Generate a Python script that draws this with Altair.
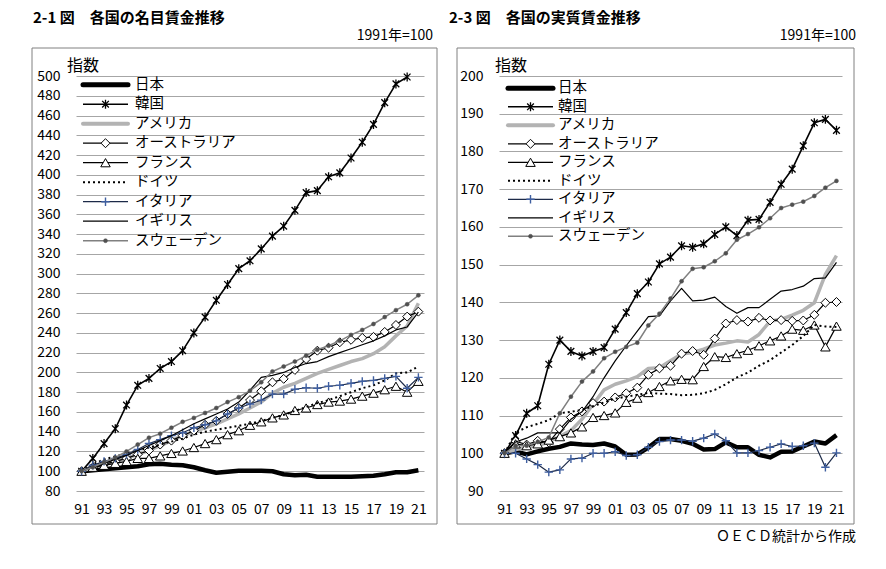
import altair as alt
import pandas as pd

YEARS = list(range(1991, 2022))
SERIES = ["日本", "韓国", "アメリカ", "オーストラリア", "フランス", "ドイツ", "イタリア", "イギリス", "スウェーデン"]

# 2-1 名目賃金 (1991=100)
nom_jp = [100, 101, 102, 103, 104, 105, 107, 107.5, 106.5, 106, 104, 101, 98.5, 99.5, 100.5, 100.5, 100.5, 100, 97, 96, 96.5, 94.5, 94.5, 94.5, 94.5, 95, 95.5, 97, 99, 99, 101]
nom_kr = [100, 113, 128, 143, 167, 187, 194, 204, 211, 222, 240, 256, 273, 289, 305, 313, 325, 338, 348, 364, 382, 384, 398, 402, 417, 433, 451, 473, 492, 499]
nom_us = [100, 104, 107, 110, 113, 117, 121, 126, 131, 136, 140, 144, 148, 153, 158, 164, 170, 179, 185, 189, 194, 199, 203, 207, 211, 214, 219, 226, 237, 247, 270]
nom_au = [100, 104, 107, 110, 113, 117, 121, 127, 131, 136, 141, 147, 151, 158, 164, 172, 181, 190, 193.5, 202.5, 213.5, 222, 225, 230.5, 233, 235, 236, 241, 248, 256.5, 261.5]
nom_fr = [100, 104, 106, 108, 110, 113, 113, 115.5, 118, 120.5, 124, 128, 132, 137, 141, 146.5, 150, 154, 157, 161.5, 164, 167.5, 170, 171, 173, 176, 179, 182.5, 186, 180, 191]
nom_de = [100, 107, 112, 115, 118, 121, 124, 127, 130, 133, 137, 140, 142, 144, 146, 148, 151, 154, 157, 161, 165, 169, 172, 176, 180, 184, 187, 192, 199, 200, 206]
nom_it = [100, 106, 110, 113, 117, 122, 128, 132, 136, 139, 144, 147, 151, 158, 164, 168, 172, 178, 178, 183, 184.5, 184, 186, 187, 189, 191, 192, 194, 196, 184, 195]
nom_uk = [100, 104, 108, 112, 116, 121, 126, 131, 136, 142, 148, 153, 158, 163, 170, 182, 195, 197, 200, 205, 209, 211, 216, 220, 224, 228, 232, 237, 243, 246, 261]
nom_se = [100, 104, 109, 114, 120, 127, 134, 138, 144, 150, 154, 159, 164, 170, 175, 181.5, 190, 201, 206, 211, 217, 223, 227, 232, 238, 243, 249, 256, 263, 269, 278]

# 2-3 実質賃金 (1991=100)
real_jp = [100, 100.5, 99.7, 100.5, 101.2, 101.7, 102.6, 102.3, 102.2, 102.6, 101.8, 99.6, 99.7, 101.5, 103.8, 103.8, 103.3, 102.5, 101, 101.1, 102.9, 101.6, 101.6, 99.6, 98.9, 100.4, 100.5, 101.8, 103.1, 102.6, 104.8]
real_kr = [100, 104.7, 110.6, 112.6, 123.6, 130, 127, 125.8, 127, 128, 132.9, 137.3, 142.3, 145.4, 150.2, 152, 155, 154.6, 155.5, 158, 160, 157.7, 161.8, 162, 166.5, 171.3, 175.3, 181.5, 187.6, 188.5, 185.6]
real_us = [100, 101, 101.5, 102, 103, 104.5, 106, 109, 113, 116.8, 118.3, 119.2, 120.3, 122.5, 122.7, 124.5, 126.3, 126.7, 127.6, 128.7, 129.2, 129.8, 129.5, 131.5, 135, 135.5, 136.6, 137.9, 139.9, 147.4, 152.4]
real_au = [100, 103.2, 102.3, 103.3, 102.9, 106.4, 109.5, 111.1, 113.3, 113.7, 114.8, 115.9, 117.4, 120.8, 122.5, 123.2, 126.4, 127.1, 126.1, 130.4, 134.4, 135.3, 134.9, 135.9, 135.2, 135.3, 135.1, 135.2, 136.7, 139.9, 140.1]
real_fr = [100, 102.5, 102, 102.5, 103.5, 104.4, 105.4, 107, 109.5, 110, 110.7, 113.5, 114.6, 116.1, 117.7, 119.2, 119.6, 119.5, 123, 125.6, 125.4, 126.4, 127.3, 128.5, 129.8, 131.1, 132.9, 132.6, 134, 128.2, 133.7]
real_de = [100, 105.5, 106.9, 107.8, 108.8, 110.6, 111, 111.5, 112.5, 113.5, 114.5, 115, 115.5, 116, 115.8, 115.7, 115.4, 115.5, 115.9, 116.8, 118.3, 120.1, 121.4, 123.2, 124.7, 126.7, 128.7, 131.1, 134, 133.6, 133.5]
real_it = [100, 100, 98.5, 97, 95, 95.6, 98.5, 98.7, 100, 100, 100.4, 99.4, 99.6, 101.6, 103.1, 103.5, 103.5, 103.2, 104, 105.1, 103.3, 100.1, 100.1, 100.7, 101.6, 102.5, 101.8, 102, 102.7, 96.3, 100.1]
real_uk = [100, 103, 104, 105.4, 105.4, 105.4, 109, 111, 115, 120, 124.5, 128.5, 132.4, 136.2, 136.4, 140.4, 143.7, 140.4, 140.6, 141.4, 138.9, 137.1, 138.6, 138.6, 140.8, 143, 143.4, 144.3, 146.3, 146.5, 150.6]
real_se = [100, 102, 102, 103, 104.2, 110.6, 115, 119, 121.7, 125.2, 126.9, 128.2, 129.3, 133.9, 137, 141, 145.6, 148.9, 149.3, 150.9, 153, 156.6, 158.1, 159.9, 162.3, 165, 165.9, 166.7, 168.2, 170.4, 172.2]

NOMINAL = dict(zip(SERIES, [nom_jp, nom_kr, nom_us, nom_au, nom_fr, nom_de, nom_it, nom_uk, nom_se]))
REAL = dict(zip(SERIES, [real_jp, real_kr, real_us, real_au, real_fr, real_de, real_it, real_uk, real_se]))

FONT = "Noto Sans CJK JP"
ASTER = "M-0.75,-0.75L0.75,0.75M-0.75,0.75L0.75,-0.75M0,-1L0,1"
PLUS = "M-1,0L1,0M0,-1L0,1"

STYLE = {
    "日本": dict(color="#000000", width=4.5),
    "韓国": dict(color="#000000", width=1.6,
               marker=dict(shape=ASTER, size=80, filled=False, stroke="#000000", strokeWidth=1.3)),
    "アメリカ": dict(color="#b3b3b3", width=3.5),
    "オーストラリア": dict(color="#000000", width=1.2,
                    marker=dict(shape="diamond", size=80, filled=True, fill="#ffffff", stroke="#000000", strokeWidth=1)),
    "フランス": dict(color="#000000", width=1.2,
                 marker=dict(shape="triangle-up", size=90, filled=True, fill="#ffffff", stroke="#000000", strokeWidth=1)),
    "ドイツ": dict(color="#000000", width=2, dash=[2, 3]),
    "イタリア": dict(color="#1c2a48", width=1.2,
                 marker=dict(shape=PLUS, size=70, filled=False, stroke="#3f5fa0", strokeWidth=1.4)),
    "イギリス": dict(color="#000000", width=1.2),
    "スウェーデン": dict(color="#808080", width=1.5,
                   marker=dict(shape="circle", size=16, filled=True, fill="#505050", stroke="#505050", strokeWidth=0.5)),
}

one = pd.DataFrame({"a": [0]})


def build(values, ydomain, yticks, W, H, title_text, leg, frame_x, title_dx, shisu_dx, footer=False):
    X = alt.X("year:Q", scale=alt.Scale(domain=[1990.5, 2021.5], nice=False, zero=False),
              axis=alt.Axis(values=YEARS[::2], labelExpr="substring(toString(datum.value), 2)",
                            grid=False, domain=False, ticks=False, labelPadding=11,
                            labelFontSize=14, labelFont=FONT, labelColor="#000000", title=None))
    Y = alt.Y("v:Q", scale=alt.Scale(domain=ydomain, nice=False, zero=False),
              axis=alt.Axis(values=yticks, grid=True, gridColor="#a6a6a6", gridWidth=1,
                            domain=False, ticks=False, labelPadding=16, labelFontSize=14,
                            labelFont=FONT, labelColor="#000000", title=None))
    main = []
    for name in SERIES:
        vals = values[name]
        df = pd.DataFrame({"year": YEARS[:len(vals)], "v": vals})
        st = STYLE[name]
        lk = dict(color=st["color"], strokeWidth=st["width"], strokeJoin="round")
        if "dash" in st:
            lk["strokeDash"] = st["dash"]
        main.append(alt.Chart(df).mark_line(**lk).encode(x=X, y=Y))
        if "marker" in st:
            main.append(alt.Chart(df).mark_point(opacity=1, **st["marker"]).encode(x=X, y=Y))

    y0, step, lx0, lx1, ltx = leg
    LY = alt.Y("i:Q", scale=alt.Scale(domain=[0, 8], range=[y0, y0 + 8 * step]), axis=None)
    legend = []
    for i, name in enumerate(SERIES):
        st = STYLE[name]
        ldf = pd.DataFrame({"i": [i], "label": [name]})
        rk = dict(color=st["color"], strokeWidth=st["width"] + (0.5 if st["width"] > 3 else 0))
        if "dash" in st:
            rk["strokeDash"] = st["dash"]
        if st["width"] > 3:
            rk["strokeCap"] = "round"
        legend.append(alt.Chart(ldf).mark_rule(**rk).encode(x=alt.value(lx0), x2=alt.value(lx1), y=LY))
        if "marker" in st:
            legend.append(alt.Chart(ldf).mark_point(opacity=1, **st["marker"]).encode(
                x=alt.value((lx0 + lx1) / 2), y=LY))
        legend.append(alt.Chart(ldf).mark_text(align="left", baseline="middle", font=FONT, fontSize=14.5,
                                               color="#000000").encode(x=alt.value(ltx), y=LY, text="label:N"))

    frame = alt.Chart(one).mark_rect(fillOpacity=0, stroke="#808080", strokeWidth=1).encode(
        x=alt.value(frame_x[0]), x2=alt.value(frame_x[1]), y=alt.value(-28), y2=alt.value(448))
    texts = [
        alt.Chart(one).mark_text(align="left", baseline="middle", font=FONT, fontSize=15, fontWeight="bold",
                                 color="#000000", text=title_text).encode(x=alt.value(title_dx), y=alt.value(-58)),
        alt.Chart(one).mark_text(align="right", baseline="middle", font=FONT, fontSize=14,
                                 color="#000000", text="1991年=100").encode(x=alt.value(357), y=alt.value(-40)),
        alt.Chart(one).mark_text(align="left", baseline="middle", font=FONT, fontSize=16,
                                 color="#000000", text="指数").encode(x=alt.value(shisu_dx), y=alt.value(-10)),
    ]
    if footer:
        texts.append(alt.Chart(one).mark_text(align="right", baseline="middle", font=FONT, fontSize=14,
                                              color="#000000", text="ＯＥＣＤ統計から作成").encode(
            x=alt.value(357), y=alt.value(461)))

    return alt.layer(frame, alt.layer(*main), alt.layer(*legend), *texts).resolve_scale(
        y="independent").properties(width=W, height=H)


left = build(NOMINAL, [80, 500], list(range(80, 501, 20)), 348, 415,
             "2-1 図　各国の名目賃金推移", (8.7, 19.5, 7, 52, 59), (-44, 361), -43, -9)
right = build(REAL, [90, 200], list(range(90, 201, 10)), 343, 415,
              "2-3 図　各国の実質賃金推移", (12.3, 18.5, 9, 54, 59), (-42, 355), -50, -4, footer=True)

chart = alt.hconcat(left, right, spacing=75, bounds="flush").properties(
    padding={"left": 23, "top": 3, "right": 5, "bottom": 5}
).configure_view(stroke=None)

chart.save("out.html", embed_options={"renderer": "svg", "actions": False})
